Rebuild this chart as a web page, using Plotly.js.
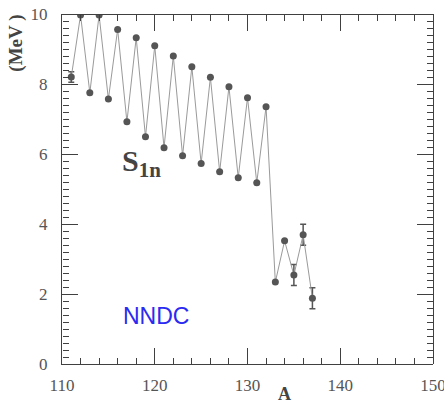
<!DOCTYPE html>
<html>
<head>
<meta charset="utf-8">
<script src="https://cdn.plot.ly/plotly-3.0.1.min.js"></script>
<style>html,body{margin:0;padding:0;background:#fff}#chart{width:444px;height:404px}</style>
</head>
<body>
<div id="chart"></div>
<script>
const massNumber = [111,112,113,114,115,116,117,118,119,120,121,122,123,124,125,126,127,128,129,130,131,132,133,134,135,136,137];
const s1n = [8.2,9.97,7.75,9.97,7.57,9.56,6.92,9.32,6.49,9.09,6.18,8.8,5.95,8.49,5.73,8.19,5.49,7.92,5.32,7.61,5.18,7.35,2.34,3.52,2.54,3.69,1.88];
const s1nErr = [0.15,0,0,0,0,0,0,0,0,0,0,0,0,0,0,0,0,0,0,0,0,0,0,0,0.3,0.3,0.3];
const xTicks = [110,120,130,140,150];
const yTicks = [0,2,4,6,8,10];
const xMinorStep = 2;
const yMinorStep = 0.2;

const serif = "Liberation Serif, Times New Roman, serif";
const tickCol = 'rgb(64,64,64)';
const xRange = [xTicks[0], xTicks[xTicks.length - 1]];
const yRange = [yTicks[0], yTicks[yTicks.length - 1]];
const data = [{
  x: massNumber, y: s1n, type: 'scatter', mode: 'lines+markers',
  line: {color: '#9a9a9a', width: 1},
  marker: {color: '#555', size: 7},
  error_y: {type: 'data', array: s1nErr, visible: true, color: '#555', thickness: 1.5, width: 3},
  hoverinfo: 'skip'
}];
['2', '3', '4'].forEach(function (k) {
  data.push({x: massNumber, y: s1n, xaxis: 'x' + k, yaxis: 'y' + k, type: 'scatter', mode: 'none', hoverinfo: 'skip'});
});
const tickBase = {showgrid: false, zeroline: false, ticks: 'inside', tickwidth: 1, tickcolor: tickCol};
const extraAxis = Object.assign({}, tickBase, {showline: false, showticklabels: false, anchor: 'free'});
const layout = {
  width: 444, height: 404,
  margin: {l: 62, r: 11, t: 14, b: 40},
  paper_bgcolor: '#fff', plot_bgcolor: '#fff',
  showlegend: false,
  xaxis: Object.assign({}, tickBase, {
    showline: true, linecolor: tickCol, linewidth: 1, ticklen: 16,
    tickfont: {family: serif, size: 17, color: '#555'},
    range: xRange, tickvals: xTicks, ticktext: xTicks.map(String),
    ticklabeloverflow: 'allow', ticklabelstandoff: 6
  }),
  yaxis: Object.assign({}, tickBase, {
    showline: true, linecolor: tickCol, linewidth: 1, ticklen: 16,
    tickfont: {family: serif, size: 17, color: '#555'},
    range: yRange, tickvals: yTicks, ticktext: yTicks.map(String),
    ticklabelstandoff: 10
  }),
  xaxis2: Object.assign({}, extraAxis, {overlaying: 'x', side: 'bottom', position: 0, range: xRange, tickmode: 'linear', tick0: xRange[0], dtick: xMinorStep, ticklen: 6}),
  yaxis2: Object.assign({}, extraAxis, {overlaying: 'y', side: 'left', position: 0, range: yRange, tickmode: 'linear', tick0: yRange[0], dtick: yMinorStep, ticklen: 6}),
  xaxis3: Object.assign({}, extraAxis, {overlaying: 'x', side: 'top', position: 1, range: xRange, tickvals: xTicks, ticklen: 16, showline: true, linecolor: tickCol, linewidth: 1}),
  yaxis3: Object.assign({}, extraAxis, {overlaying: 'y', side: 'right', position: 1, range: yRange, tickvals: yTicks, ticklen: 16, showline: true, linecolor: tickCol, linewidth: 1}),
  xaxis4: Object.assign({}, extraAxis, {overlaying: 'x', side: 'top', position: 1, range: xRange, tickmode: 'linear', tick0: xRange[0], dtick: xMinorStep, ticklen: 6}),
  yaxis4: Object.assign({}, extraAxis, {overlaying: 'y', side: 'right', position: 1, range: yRange, tickmode: 'linear', tick0: yRange[0], dtick: yMinorStep, ticklen: 6}),
  annotations: [
    {text: '<b>S<sub>1n</sub></b>', xref: 'x', yref: 'y', x: 116.2, y: 5.75, xanchor: 'left', yanchor: 'middle',
     showarrow: false, font: {family: serif, size: 30, color: '#444'}},
    {text: 'NNDC', xref: 'x', yref: 'y', x: 116.4, y: 1.37, xanchor: 'left', yanchor: 'middle',
     showarrow: false, font: {family: 'Liberation Sans, Arial, sans-serif', size: 23, color: '#2a2af2'}},
    {text: '<b>(MeV )</b>', xref: 'paper', yref: 'paper', x: -0.125, y: 0.917, xanchor: 'center', yanchor: 'middle',
     textangle: -90, showarrow: false, font: {family: serif, size: 19, color: '#444'}},
    {text: '<b>A</b>', xref: 'x', yref: 'paper', x: 134, y: -0.086, xanchor: 'center', yanchor: 'middle',
     showarrow: false, font: {family: serif, size: 18, color: '#444'}}
  ]
};
Plotly.newPlot('chart', data, layout, {displayModeBar: false});
</script>
</body>
</html>
